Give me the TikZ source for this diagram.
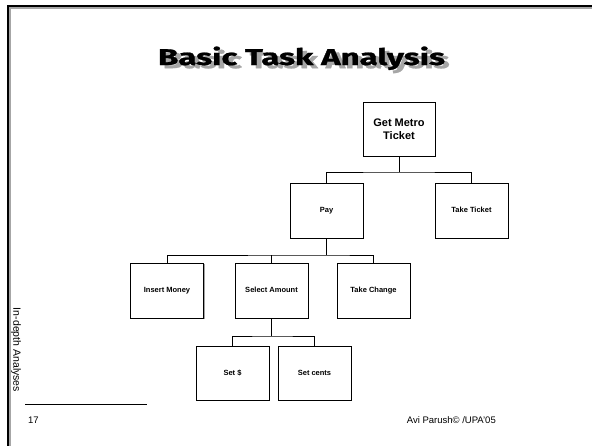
\documentclass[tikz,border=0pt]{standalone}
\usepackage{fontspec}
\setmainfont{Liberation Sans}
\newfontfamily\titlefont[BoldFeatures={FakeBold=0.9}]{Fira Sans}
\usetikzlibrary{shadows}
\tikzset{
  task/.style={draw, line width=0.8pt, fill=white, align=center, inner sep=1pt,
    minimum width=73pt, minimum height=55pt, text height=5.6pt, text depth=1.6pt,
    font=\fontsize{7.5}{9}\selectfont\bfseries,
    drop shadow={shadow xshift=1.3pt, shadow yshift=-1.3pt, fill=black!45, opacity=0.8}},
  link/.style={line width=0.8pt},
  frame/.style={line width=2.4pt, line cap=rect},
}
% title text with its own grey drop shadow in one box
\newcommand{\shadowtitle}[1]{%
  \makebox[0pt][l]{\kern1.4pt\raisebox{-1.4pt}{\textcolor{black!35}{#1}}}#1}
\begin{document}
\begin{tikzpicture}[x=1pt, y=-1pt]
\useasboundingbox (0,0) rectangle (592,445);
\fill[white] (0,0) rectangle (592,445);

% slide frame
\draw[frame, black!35] (9.5,445) -- (9.5,7.5) -- (592,7.5);
\draw[frame] (8,445) -- (8,6) -- (592,6);

% title
\node[anchor=base, inner sep=0] (title) at (301.5,65)
  {\resizebox{287pt}{18.5pt}{\titlefont\bfseries\shadowtitle{Basic Task Analysis}}};

% task hierarchy
\node[task, minimum width=72pt, minimum height=54pt, text height=, text depth=,
  font=\fontsize{11}{12.5}\selectfont\bfseries]
  (get) at (399,129) {Get Metro\\Ticket};
\node[task] (pay)  at (326.5,210.5) {Pay};
\node[task] (take) at (471.5,210.5) {Take Ticket};
\node[task] (insert) at (167,290.5) {Insert Money};
\node[task] (select) at (271.5,290.5) {Select Amount};
\node[task] (change) at (373.5,290.5) {Take Change};
\node[task, minimum height=54pt] (setd) at (232.5,373) {Set \$};
\node[task, minimum height=54pt] (setc) at (314.5,373) {Set cents};

\coordinate (j1) at (399,172);
\coordinate (j2) at (326.5,255);
\coordinate (j3) at (271.5,336);

\draw[link] (get.south) -- (j1);
\draw[link] (pay.north) |- (j1) -| (take.north);
\draw[link] (pay.south) -- (j2);
\draw[link] (insert.north) |- (j2) -| (change.north);
\draw[link] (select.north) -- (select.north |- j2);
\draw[link] (select.south) -- (j3);
\draw[link] (setd.north) |- (j3) -| (setc.north);

% footer
\coordinate (fl) at (25,404);
\coordinate (fr) at (147,404);
\draw[line width=0.8pt] (fl) -- (fr);
\node[anchor=base west, inner sep=0, font=\fontsize{9.5}{11}\selectfont] (pagenum) at (28,423) {17};
\node[anchor=base east, inner sep=0, font=\fontsize{9.5}{11}\selectfont] (credit) at (496,423) {Avi Parush© /UPA'05};
\node[rotate=-90, inner sep=0, font=\fontsize{10.5}{12}\selectfont] (side) at (16,350) {In-depth Analyses};
\end{tikzpicture}
\end{document}
